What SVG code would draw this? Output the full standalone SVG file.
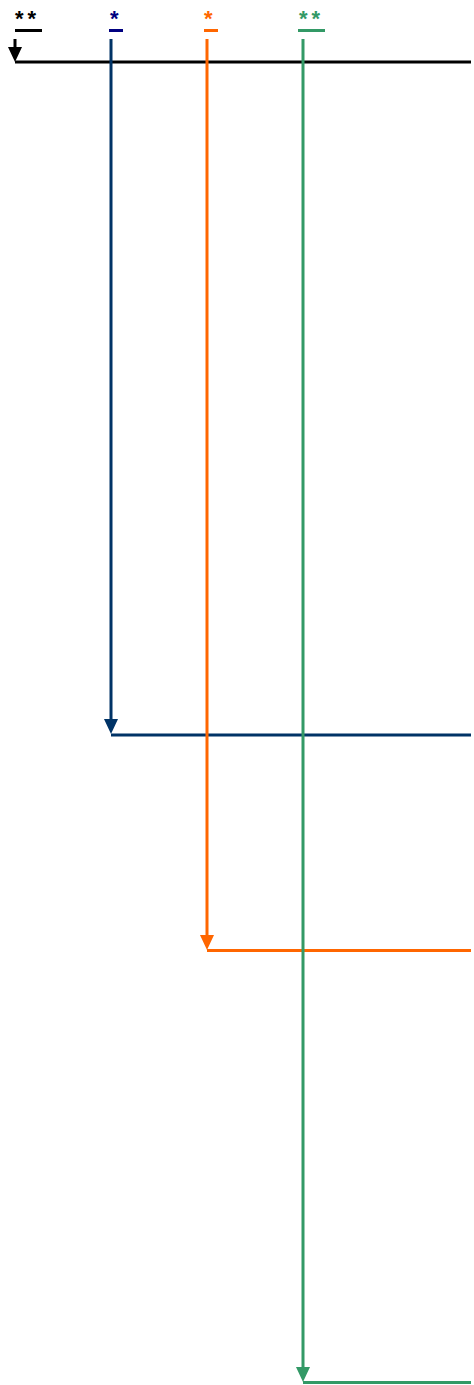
<svg xmlns="http://www.w3.org/2000/svg" width="474" height="1385" viewBox="0 0 474 1385">
<style>
.lbl{font-family:"Liberation Sans",Arial,sans-serif;font-weight:bold;font-size:22px;letter-spacing:4px}
.ln{fill:none;stroke-width:3}
</style>
<rect width="474" height="1385" fill="#ffffff"/>
<g id="connectors">
<line class="ln" x1="15" y1="62" x2="471" y2="62" stroke="#000000"/>
<line class="ln" x1="111" y1="735" x2="471" y2="735" stroke="#003366"/>
<line class="ln" x1="207" y1="950.5" x2="471" y2="950.5" stroke="#ff6600"/>
<line class="ln" x1="303" y1="1382.5" x2="471" y2="1382.5" stroke="#339966"/>
<line class="ln" x1="15" y1="39" x2="15" y2="52" stroke="#000000"/>
<polygon points="8,47 22,47 15,62" fill="#000000"/>
<line class="ln" x1="111" y1="39" x2="111" y2="722" stroke="#003366"/>
<polygon points="104,719 118,719 111,734" fill="#003366"/>
<line class="ln" x1="207" y1="39" x2="207" y2="938" stroke="#ff6600"/>
<polygon points="200,935 214,935 207,950" fill="#ff6600"/>
<line class="ln" x1="303" y1="39" x2="303" y2="1370" stroke="#339966"/>
<polygon points="296,1367 310,1367 303,1382" fill="#339966"/>
</g>
<g id="n1">
<text class="lbl" x="15" y="26" fill="#000000">**</text>
<line x1="15" y1="30.5" x2="42" y2="30.5" stroke="#000000" stroke-width="3"/>
</g>
<g id="n2">
<text class="lbl" x="110" y="26" fill="#000080">*</text>
<line x1="109" y1="30.5" x2="123" y2="30.5" stroke="#000080" stroke-width="3"/>
</g>
<g id="n3">
<text class="lbl" x="204" y="26" fill="#ff6600">*</text>
<line x1="204" y1="30.5" x2="218" y2="30.5" stroke="#ff6600" stroke-width="3"/>
</g>
<g id="n4">
<text class="lbl" x="299" y="26" fill="#339966">**</text>
<line x1="298" y1="30.5" x2="325" y2="30.5" stroke="#339966" stroke-width="3"/>
</g>
</svg>
